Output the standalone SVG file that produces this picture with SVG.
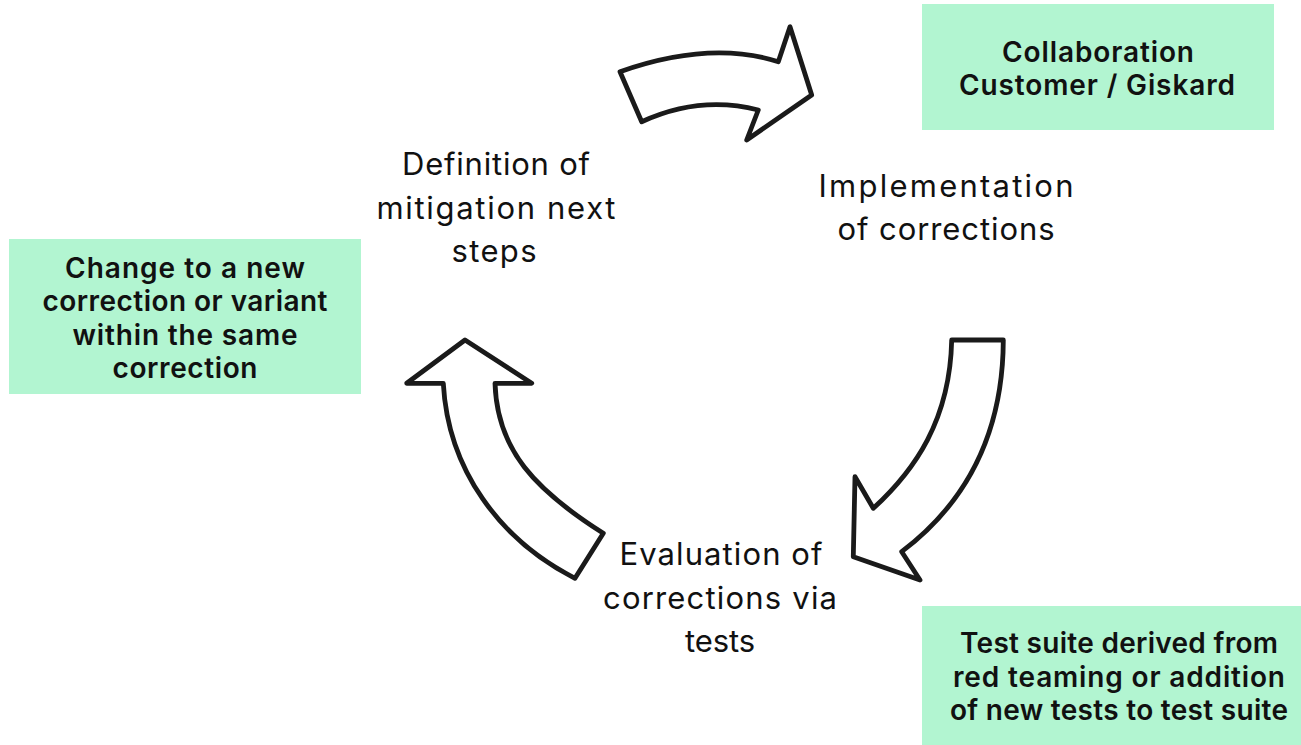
<svg xmlns="http://www.w3.org/2000/svg" width="1301" height="745" viewBox="0 0 1301 745">
  <style>
    .note { fill: #b2f5d1; }
    .note-text { font-family: Inter, "Noto Sans", sans-serif; font-weight: 600; font-size: 28px; fill: #111; text-anchor: middle; }
    .step-text { font-family: Inter, "Noto Sans", sans-serif; font-weight: 400; font-size: 31px; fill: #111; text-anchor: middle; }
    .cycle-arrow { fill: #fff; stroke: #1a1a1a; stroke-width: 4.8; stroke-linejoin: round; }
  </style>
  <rect width="1301" height="745" fill="#fff"/>

  <!-- curved arrows forming the cycle -->
  <g id="connectors">
    <path id="arrow-define-to-implement" class="cycle-arrow"
      d="M620,71.7 L641.7,121.7 Q700,95 758.3,110 L746.7,140 L811.7,95 L790,26.7 L778.3,61.7 Q710,40 620,71.7 Z"/>
    <path id="arrow-implement-to-evaluate" class="cycle-arrow"
      d="M951.7,340 L1003.3,340 C1003,430 970,500 901.7,551.7 L920,580 L853.3,556.7 L855,476.7 L873.3,508.3 C915,470 950,420 951.7,340 Z"/>
    <path id="arrow-evaluate-to-define" class="cycle-arrow"
      d="M465,340 L531.7,383.3 L495,383.3 C497,450 535,490 603.3,533.3 L575,578.3 C500,540 448,470 443.3,383.3 L406.7,383.3 Z"/>
  </g>

  <!-- cycle steps -->
  <g id="step-definition">
    <text class="step-text" x="496" y="175" textLength="188" lengthAdjust="spacing">Definition of</text>
    <text class="step-text" x="496" y="219" textLength="239" lengthAdjust="spacing">mitigation next</text>
    <text class="step-text" x="494" y="262" textLength="85" lengthAdjust="spacing">steps</text>
  </g>
  <g id="step-implementation">
    <text class="step-text" x="946" y="197" textLength="255" lengthAdjust="spacing">Implementation</text>
    <text class="step-text" x="946" y="240" textLength="217" lengthAdjust="spacing">of corrections</text>
  </g>
  <g id="step-evaluation">
    <text class="step-text" x="721" y="565" textLength="203" lengthAdjust="spacing">Evaluation of</text>
    <text class="step-text" x="720" y="609" textLength="234" lengthAdjust="spacing">corrections via</text>
    <text class="step-text" x="720" y="652" textLength="70" lengthAdjust="spacing">tests</text>
  </g>

  <!-- side notes -->
  <g id="note-collaboration">
    <rect class="note" x="922" y="4" width="352" height="126"/>
    <text class="note-text" x="1098" y="62" textLength="192" lengthAdjust="spacing">Collaboration</text>
    <text class="note-text" x="1097" y="95" textLength="276" lengthAdjust="spacing">Customer / Giskard</text>
  </g>
  <g id="note-change">
    <rect class="note" x="9" y="239" width="352" height="155"/>
    <text class="note-text" x="185" y="278" textLength="240" lengthAdjust="spacing">Change to a new</text>
    <text class="note-text" x="185" y="311" textLength="285" lengthAdjust="spacing">correction or variant</text>
    <text class="note-text" x="185" y="345" textLength="225" lengthAdjust="spacing">within the same</text>
    <text class="note-text" x="185" y="378" textLength="145" lengthAdjust="spacing">correction</text>
  </g>
  <g id="note-test-suite">
    <rect class="note" x="922" y="606" width="379" height="139"/>
    <text class="note-text" x="1119" y="653" textLength="318" lengthAdjust="spacing">Test suite derived from</text>
    <text class="note-text" x="1119" y="687" textLength="332" lengthAdjust="spacing">red teaming or addition</text>
    <text class="note-text" x="1119" y="720" textLength="338" lengthAdjust="spacing">of new tests to test suite</text>
  </g>
</svg>
